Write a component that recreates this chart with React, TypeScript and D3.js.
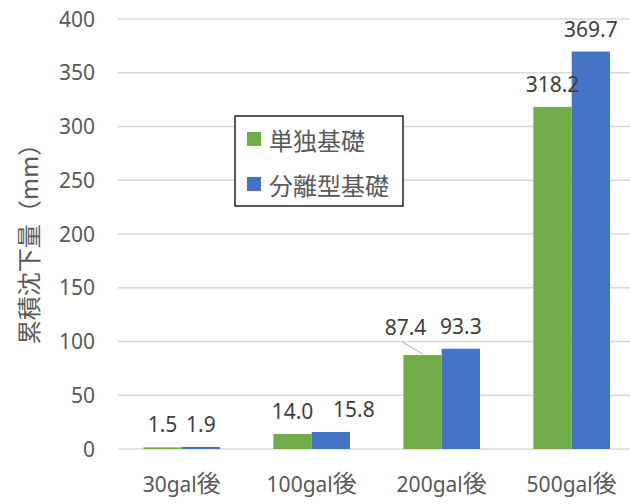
import React from "react";
import * as d3 from "d3";

const categories = ["30gal", "100gal", "200gal", "500gal"];
const categorySuffix = "後";
const seriesNames = ["単独基礎", "分離型基礎"];
const singleValues = [1.5, 14.0, 87.4, 318.2];
const separateValues = [1.9, 15.8, 93.3, 369.7];
const yTicks = [0, 50, 100, 150, 200, 250, 300, 350, 400];
const yTitle = "累積沈下量（mm）";
const colors = ["#70AD47", "#4472C4"];

// label nudges (layout only): [series][category] -> [dx, dy]
const labelNudges: [number, number][][] = [
  [[0, 0], [0, 0], [-17, -5], [0, 0]],
  [[0, 0], [23, 0], [0, 0], [0, 0]],
];

const W = 630;
const H = 504;
const FONT = "'Noto Sans', 'Noto Sans CJK JP', sans-serif";
const CJK = "'Noto Sans CJK JP', 'Noto Sans', sans-serif";
const GRAY = "#595959";

export default function App() {
  const series = [singleValues, separateValues];
  const y = d3.scaleLinear().domain([0, 400]).range([449, 19]);
  const x0 = d3.scaleBand<string>().domain(categories).range([116.7, 636.7]).paddingInner(0).paddingOuter(0);
  const x1 = d3
    .scaleBand<string>()
    .domain(seriesNames)
    .range([0, x0.bandwidth()])
    .paddingInner(0)
    .paddingOuter(0.697);

  const items = series.flatMap((vals, si) =>
    vals.map((v, ci) => {
      const cat = categories[ci];
      const bx = (x0(cat) ?? 0) + (x1(seriesNames[si]) ?? 0);
      const bw = x1.bandwidth();
      const [dx, dy] = labelNudges[si][ci];
      return { si, ci, v, bx, bw, dx, dy, lx: bx + bw / 2 + dx, ly: y(v) - 15 + dy };
    })
  );

  return (
    <svg
      width={W}
      height={H}
      style={{ position: "absolute", left: 0, top: 0, background: "#fff" }}
      fontFamily={FONT}
    >
      <rect x={0} y={0} width={W} height={H} fill="#fff" />
      {yTicks.map((t) => (
        <g key={t}>
          <line x1={118} x2={W} y1={y(t)} y2={y(t)} stroke="#d9d9d9" strokeWidth={1.3} />
          <text x={95} y={y(t)} dy="0.36em" textAnchor="end" fontSize={21} fill={GRAY}>
            {t}
          </text>
        </g>
      ))}
      <text
        transform={`translate(27,238) rotate(-90)`}
        textAnchor="middle"
        dominantBaseline="central"
        fontSize={24}
        fontFamily={CJK}
        fill={GRAY}
      >
        {yTitle}
      </text>
      {items.map((d) => (
        <rect
          key={`b-${d.si}-${d.ci}`}
          x={d.bx}
          y={y(d.v)}
          width={d.bw}
          height={y(0) - y(d.v)}
          fill={colors[d.si]}
        />
      ))}
      {items.map((d) => (
        <g key={`l-${d.si}-${d.ci}`}>
          {d.dx !== 0 && d.dy !== 0 && (
            <line
              x1={d.lx - 3}
              y1={d.ly + 7}
              x2={d.bx + d.bw / 2}
              y2={y(d.v) - 1}
              stroke="#a6a6a6"
              strokeWidth={1}
            />
          )}
          <text x={d.lx} y={d.ly} textAnchor="middle" fontSize={21} fill="#404040">
            {d.v.toFixed(1)}
          </text>
        </g>
      ))}
      {categories.map((c) => (
        <text
          key={c}
          x={(x0(c) ?? 0) + x0.bandwidth() / 2}
          y={492}
          textAnchor="middle"
          fontSize={21}
          fill={GRAY}
        >
          {c}
          <tspan fontFamily={CJK} fontSize={24}>
            {categorySuffix}
          </tspan>
        </text>
      ))}
      <rect x={235} y={116} width={168} height={90} fill="#fff" stroke="#000" strokeWidth={1.3} />
      {seriesNames.map((s, i) => (
        <g key={s}>
          <rect x={247} y={132 + i * 45} width={14} height={14} fill={colors[i]} />
          <text
            x={269}
            y={139 + i * 45}
            dominantBaseline="central"
            fontSize={24}
            fontFamily={CJK}
            fill={GRAY}
          >
            {s}
          </text>
        </g>
      ))}
    </svg>
  );
}
